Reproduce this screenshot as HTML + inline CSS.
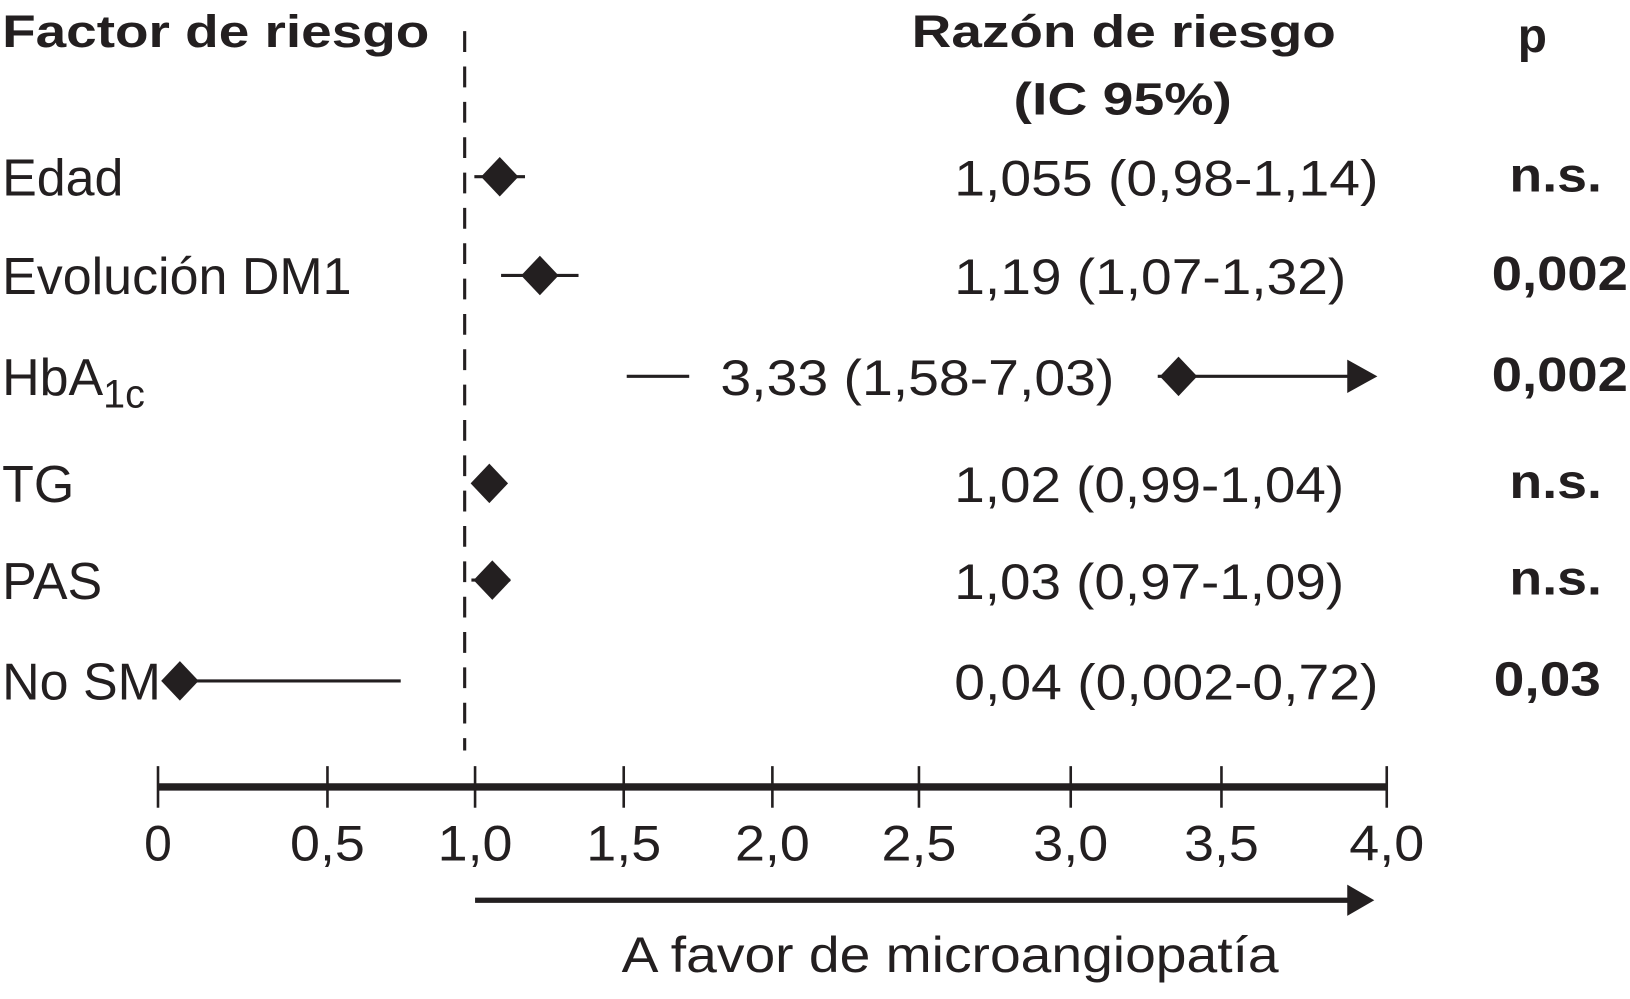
<!DOCTYPE html>
<html><head><meta charset="utf-8"><style>
html,body{margin:0;padding:0;background:#fff;}
svg{display:block;font-family:"Liberation Sans",Arial,sans-serif;}
</style></head><body>
<svg id="chart" width="1630" height="999" viewBox="0 0 1568 961" preserveAspectRatio="none" xmlns="http://www.w3.org/2000/svg">
<g fill="#231f20">
<text x="2" y="45" font-size="44" font-weight="bold" textLength="411" lengthAdjust="spacingAndGlyphs">Factor de riesgo</text>
<text x="877" y="45" font-size="44" font-weight="bold" textLength="408" lengthAdjust="spacingAndGlyphs">Razón de riesgo</text>
<text x="975" y="110" font-size="44" font-weight="bold" textLength="210" lengthAdjust="spacingAndGlyphs">(IC 95%)</text>
<text x="1460" y="50" font-size="46" font-weight="bold">p</text>
<text x="598" y="935" font-size="48" textLength="632" lengthAdjust="spacingAndGlyphs">A favor de microangiopatía</text>
</g>
<g id="plot"></g>
</svg>
<script>
const labels = ["Edad","Evolución DM1","HbA1c","TG","PAS","No SM"];
const estimates = [1.055, 1.19, 3.33, 1.02, 1.03, 0.04];
const lows = [0.98, 1.07, 1.58, 0.99, 0.97, 0.002];
const highs = [1.14, 1.32, 7.03, 1.04, 1.09, 0.72];
const ciText = ["1,055 (0,98-1,14)","1,19 (1,07-1,32)","3,33 (1,58-7,03)","1,02 (0,99-1,04)","1,03 (0,97-1,09)","0,04 (0,002-0,72)"];
const pText = ["n.s.","0,002","0,002","n.s.","n.s.","0,03"];
const ticks = [0,0.5,1.0,1.5,2.0,2.5,3.0,3.5,4.0];
const tickLabels = ["0","0,5","1,0","1,5","2,0","2,5","3,0","3,5","4,0"];

const NS="http://www.w3.org/2000/svg";
const g=document.getElementById('plot');
// axis layout (printed axis is slightly irregular)
const tickPx=[152,315,457,600,743,884,1030,1175,1334];
function x(v){
  v=Math.max(0,Math.min(4,v));
  const k=Math.min(7,Math.floor(v/0.5));
  const f=(v-k*0.5)/0.5;
  return tickPx[k]+f*(tickPx[k+1]-tickPx[k]);
}
const rowY=[170,265,362,465,558,655];
const valW=[408,377,379,375,375,408];
function row(i){return rowY[i];}
function el(tag,attrs,parent){const e=document.createElementNS(NS,tag);for(const k in attrs)e.setAttribute(k,attrs[k]);(parent||g).appendChild(e);return e;}
const ink="#231f20";

const ref=el('line',{x1:447,x2:447,y1:30,y2:722,stroke:ink,'stroke-width':3,'stroke-dasharray':'20 14'});



const ax=el('line',{x1:x(0),x2:x(4),y1:757,y2:757,stroke:ink,'stroke-width':7});


ticks.forEach((t,i)=>{
  const tk=el('line',{x1:x(t),x2:x(t),y1:737,y2:777,stroke:ink,'stroke-width':2.5});
  
  
  const tl=el('text',{x:x(t),y:828,'font-size':48,'text-anchor':'middle',fill:ink});
  tl.textContent=tickLabels[i];
  
  
  if(tickLabels[i].length>1){tl.setAttribute('textLength',72);tl.setAttribute('lengthAdjust','spacingAndGlyphs');}
});

const fa=el('line',{x1:457,x2:1300,y1:866,y2:866,stroke:ink,'stroke-width':5});


const fh=el('polygon',{points:'1296,851 1322,866 1296,881',fill:ink});



labels.forEach((lab,i)=>{
  const y=row(i);
  const t=el('text',{x:2,y:y+18,'font-size':50,fill:ink});
  
  
  if(lab==="HbA1c"){
    t.textContent="HbA";
    const s=el('tspan',{'font-size':38,dy:12},t);s.textContent="1c";
  } else t.textContent=lab;
  const ex=x(estimates[i])+8;
  if(highs[i]>4){
    const l1=el('line',{x1:x(lows[i])-20,x2:663,y1:y,y2:y,stroke:ink,'stroke-width':3});
    
    
    const l2=el('line',{x1:ex-20,x2:1300,y1:y,y2:y,stroke:ink,'stroke-width':3});
    
    
    const ah=el('polygon',{points:`1296,${y-16} 1325,${y} 1296,${y+16}`,fill:ink});
    
    
  } else {
    const l=el('line',{x1:x(lows[i])+5,x2:x(highs[i])+8,y1:y,y2:y,stroke:ink,'stroke-width':3});
    
    
  }
  const d=el('polygon',{points:`${ex-18},${y} ${ex},${y-19} ${ex+18},${y} ${ex},${y+19}`,fill:ink});
  
  
  const vt=el('text',{'font-size':48,fill:ink,y:y+18});
  vt.textContent=ciText[i];
  vt.setAttribute('x',highs[i]>4?693:918);
  vt.setAttribute('textLength',valW[i]);
  vt.setAttribute('lengthAdjust','spacingAndGlyphs');
  
  
  const isNs=pText[i]==="n.s.";
  const pt=el('text',{'font-size':46,'font-weight':'bold',fill:ink,y:y+14,x:isNs?1452:(pText[i]==="0,03"?1437:1435)});
  pt.textContent=pText[i];
  pt.setAttribute('textLength',isNs?89:(pText[i]==="0,03"?103:131));
  pt.setAttribute('lengthAdjust','spacingAndGlyphs');
  
  
});
</script>
</body></html>
